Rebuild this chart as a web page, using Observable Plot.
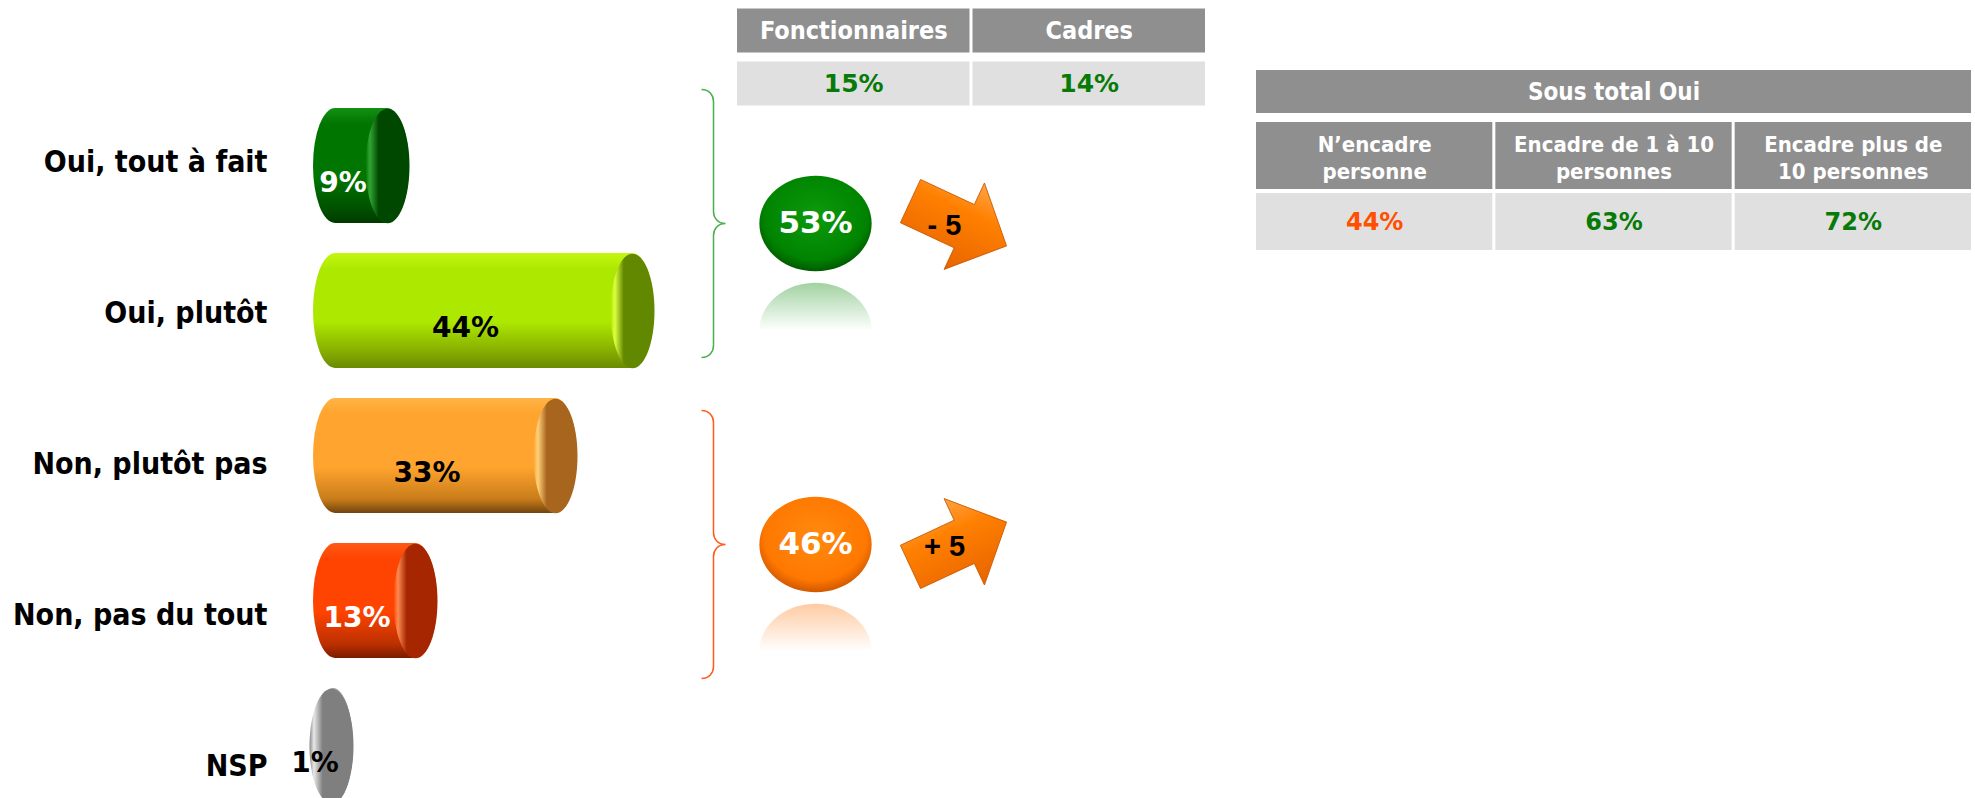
<!DOCTYPE html>
<html><head><meta charset="utf-8">
<script src="https://cdn.jsdelivr.net/npm/d3@7"></script>
<script src="https://cdn.jsdelivr.net/npm/@observablehq/plot@0.6"></script>
<style>
html,body{margin:0;padding:0;background:#fff;overflow:hidden;}
#root{position:relative;width:1975px;height:798px;}
#root > svg{position:absolute;left:0;top:0;}
</style></head><body><div id="root"></div>
<script>
// ---------------- data ----------------
const categories = ["Oui, tout à fait", "Oui, plutôt", "Non, plutôt pas", "Non, pas du tout", "NSP"];
const values = [9, 44, 33, 13, 1];
const groups = ["Oui", "Non"];
const groupTotals = [53, 46];
const groupChanges = [-5, 5];
const publicColumns = ["Fonctionnaires", "Cadres"];
const publicValues = [15, 14];
const subtotalTitle = "Sous total Oui";
const managerColumns = ["N’encadre\npersonne", "Encadre de 1 à 10\npersonnes", "Encadre plus de\n10 personnes"];
const managerValues = [44, 63, 72];

// ---------------- styles ----------------
const W = 1975, H = 798;
const CONDENSED = "'DejaVu Sans Condensed', 'DejaVu Sans', sans-serif";
const WIDE = "'DejaVu Sans', Verdana, sans-serif";
const ARIAL = "'Liberation Sans', Arial, sans-serif";
const HEAD_GRAY = "#8f8f8f", CELL_GRAY = "#e0e0e0", GREEN_TXT = "#077a07", ORANGE_TXT = "#ff4f00";
const barPalette = [
  {top: "#139013", mid: "#007500", bot: "#005000", edge: "#003a00", cap: "#004800", hi: "#33a533", text: "white"},
  {top: "#c4f710", mid: "#ade800", bot: "#82a800", edge: "#6a8a00", cap: "#628800", hi: "#dcff40", text: "black"},
  {top: "#ffb445", mid: "#ffa42e", bot: "#c87c1a", edge: "#70440f", cap: "#a8651d", hi: "#ffd27a", text: "black"},
  {top: "#ff5a18", mid: "#ff4300", bot: "#bb3000", edge: "#7a1c00", cap: "#a52600", hi: "#ff8a52", text: "white"},
  {top: "#a0a0a0", mid: "#8a8a8a", bot: "#6e6e6e", edge: "#555555", cap: "#7f7f7f", hi: "#e8e8e8", text: "black"}
];
const groupPalette = [
  {brace: "#4aae4a", c0: "#0d9a0d", c1: "#008400", c2: "#005a00", refl: "#2e9a2e"},
  {brace: "#ff5a1a", c0: "#ff8a10", c1: "#ff7800", c2: "#d05800", refl: "#ff8a30"}
];

// ---------------- gradients ----------------
const defs = d3.select("#root").append("svg").attr("width", 0).attr("height", 0)
  .style("position", "absolute").append("defs");
function linGrad(id, vertical, stops) {
  const g = defs.append("linearGradient").attr("id", id)
    .attr("x1", 0).attr("y1", 0).attr("x2", vertical ? 0 : 1).attr("y2", vertical ? 1 : 0);
  stops.forEach(([o, c, op]) => g.append("stop").attr("offset", o).attr("stop-color", c).attr("stop-opacity", op ?? 1));
}
function radGrad(id, stops) {
  const g = defs.append("radialGradient").attr("id", id).attr("cx", 0.5).attr("cy", 0.42).attr("r", 0.58);
  stops.forEach(([o, c]) => g.append("stop").attr("offset", o).attr("stop-color", c));
}
barPalette.forEach((p, i) => {
  linGrad(`body${i}`, true, [[0, p.top], [0.14, p.mid], [0.6, p.mid], [0.88, p.bot], [1, p.edge]]);
  linGrad(`cap${i}`, false, [[0, p.mid], [0.1, p.hi], [0.3, p.cap], [1, p.cap]]);
});
groupPalette.forEach((p, i) => {
  radGrad(`tot${i}`, [[0, p.c0], [0.78, p.c1], [1, p.c2]]);
  linGrad(`refl${i}`, true, [[0, p.refl, 0.45], [0.5, p.refl, 0]]);
});
linGrad("arrow", true, [[0, "#ffa446"], [0.35, "#ff8000"], [1, "#e86400"]]);

// ---------------- custom symbols ----------------
function ellipseSymbol(ax, ay) {
  const k = 0.5523;
  return {draw(ctx, size) {
    const r = Math.sqrt(size / Math.PI), rx = ax * r, ry = ay * r;
    ctx.moveTo(rx, 0);
    ctx.bezierCurveTo(rx, k * ry, k * rx, ry, 0, ry);
    ctx.bezierCurveTo(-k * rx, ry, -rx, k * ry, -rx, 0);
    ctx.bezierCurveTo(-rx, -k * ry, -k * rx, -ry, 0, -ry);
    ctx.bezierCurveTo(k * rx, -ry, rx, -k * ry, rx, 0);
    ctx.closePath();
  }};
}
const braceSymbol = {draw(ctx, size) {
  const h = Math.sqrt(size / Math.PI), w = 12;
  ctx.moveTo(-w, -h);
  ctx.bezierCurveTo(-w / 3, -h, 0, -h + w / 2, 0, -h + w);
  ctx.lineTo(0, -w);
  ctx.bezierCurveTo(0, -w / 2, w / 3, 0, w, 0);
  ctx.bezierCurveTo(w / 3, 0, 0, w / 2, 0, w);
  ctx.lineTo(0, h - w);
  ctx.bezierCurveTo(0, h - w / 2, -w / 3, h, -w, h);
}};
const arrowSymbol = {draw(ctx, size) {
  const r = Math.sqrt(size / Math.PI), sh = 0.45 * r, hh = 0.9 * r, hb = 0.12 * r;
  ctx.moveTo(-r, -sh); ctx.lineTo(hb, -sh); ctx.lineTo(hb, -hh); ctx.lineTo(r, 0);
  ctx.lineTo(hb, hh); ctx.lineTo(hb, sh); ctx.lineTo(-r, sh); ctx.closePath();
}};

const root = document.getElementById("root");
const base = {width: W, height: H, margin: 0, style: {background: "transparent", overflow: "visible"}};

// ---------------- bars ----------------
const bars = categories.map((c, i) => ({cat: c, value: values[i], i}));
root.append(Plot.plot({
  ...base,
  x: {domain: [0, 100], range: [324, 1024], axis: null},
  y: {type: "band", domain: categories, range: [77.25, 832.7], padding: 0.21, axis: null},
  color: {type: "identity"},
  marks: [
    Plot.barX(bars, {x1: 0, x2: "value", y: "cat", insetLeft: -11, insetRight: -22, rx: 22, ry: 60,
      fill: d => `url(#body${d.i})`}),
    Plot.dot(bars, {x: "value", y: "cat", r: 57.3, symbol: ellipseSymbol(0.384, 1), fill: d => `url(#cap${d.i})`}),
    Plot.text(bars, {x: d => d.value / 2, y: "cat", text: d => `${d.value}%`, dx: -13, dy: 17,
      fill: d => barPalette[d.i].text, fontFamily: WIDE, fontSize: 28, fontWeight: "bold"})
  ]
}));

// ---------------- category labels ----------------
root.append(Plot.plot({
  width: W, height: H, marginLeft: 270, marginTop: 0, marginBottom: 0, marginRight: 0,
  style: {background: "transparent", fontFamily: CONDENSED, fontWeight: "bold", fontSize: "30px", color: "black"},
  y: {type: "band", domain: categories, range: [84.2, 842.4], padding: 0},
  marks: [Plot.axisY({anchor: "left", tickSize: 0, tickPadding: 3, fontSize: 30, fontFamily: CONDENSED, fontWeight: "bold", label: null})]
}));

// ---------------- sub-totals, braces, evolutions ----------------
const summary = groups.map((g, i) => ({group: g, total: groupTotals[i], change: groupChanges[i], i}));
root.append(Plot.plot({
  ...base,
  x: {type: "point", domain: ["total", "écart"], range: [815, 958], padding: 0, axis: null},
  y: {type: "point", domain: groups, range: [223, 544], padding: 0, axis: null},
  color: {type: "identity"},
  marks: [
    Plot.dot(summary, {x: () => "total", y: "group", dx: -102, r: 134, symbol: braceSymbol,
      fill: "none", stroke: d => groupPalette[d.i].brace, strokeWidth: 1.5}),
    Plot.dot(summary, {x: () => "total", y: "group", dy: 107, r: 52, symbol: ellipseSymbol(1.08, 0.92),
      fill: d => `url(#refl${d.i})`}),
    Plot.dot(summary, {x: () => "total", y: "group", r: 52, symbol: ellipseSymbol(1.08, 0.92),
      fill: d => `url(#tot${d.i})`}),
    Plot.text(summary, {x: () => "total", y: "group", text: d => `${d.total}%`, fill: "white",
      fontFamily: WIDE, fontSize: 31, fontWeight: "bold"}),
    Plot.dot(summary, {x: () => "écart", y: "group", r: 53, symbol: arrowSymbol,
      rotate: d => d.change < 0 ? 25 : -25, fill: () => "url(#arrow)", stroke: "#c85800", strokeWidth: 0.8}),
    Plot.text(summary, {x: () => "écart", y: "group", text: d => `${d.change < 0 ? "-" : "+"} ${Math.abs(d.change)}`,
      dx: -14, dy: 2, fill: "black", fontFamily: ARIAL, fontSize: 29, fontWeight: "bold"})
  ]
}));

// ---------------- table: Fonctionnaires / Cadres ----------------
const publicRows = ["entête", "valeur"];
root.append(Plot.plot({
  ...base,
  x: {domain: [0, publicColumns.length], range: [735.5, 1206.5], axis: null},
  y: {type: "band", domain: publicRows, range: [3.75, 110.75], padding: 0, axis: null},
  marks: [
    Plot.barX(publicColumns, {x1: (d, i) => i, x2: (d, i) => i + 1, y: () => "entête", fill: HEAD_GRAY,
      insetLeft: 1.5, insetRight: 1.5, insetTop: 4.5, insetBottom: 4.5}),
    Plot.barX(publicValues, {x1: (d, i) => i, x2: (d, i) => i + 1, y: () => "valeur", fill: CELL_GRAY,
      insetLeft: 1.5, insetRight: 1.5, insetTop: 4.5, insetBottom: 4.5}),
    Plot.text(publicColumns, {x: (d, i) => i + 0.5, y: () => "entête", text: d => d, fill: "white",
      fontFamily: CONDENSED, fontSize: 25, fontWeight: "bold"}),
    Plot.text(publicValues, {x: (d, i) => i + 0.5, y: () => "valeur", text: d => `${d}%`, fill: GREEN_TXT,
      fontFamily: WIDE, fontSize: 25, fontWeight: "bold"})
  ]
}));

// ---------------- table: Sous total Oui by management ----------------
const managerRows = ["titre", "entête", "valeur"];
const managerColors = [ORANGE_TXT, GREEN_TXT, GREEN_TXT];
root.append(Plot.plot({
  ...base,
  x: {domain: [0, managerColumns.length], range: [1254.5, 1972.5], axis: null},
  y: {type: "band", domain: managerRows, range: [59, 254], padding: 0, axis: null},
  color: {type: "identity"},
  marks: [
    Plot.barX([subtotalTitle], {x1: 0, x2: managerColumns.length, y: () => "titre", fill: () => HEAD_GRAY,
      insetLeft: 1.5, insetRight: 1.5, insetTop: 11, insetBottom: 11}),
    Plot.barX(managerColumns, {x1: (d, i) => i, x2: (d, i) => i + 1, y: () => "entête", fill: () => HEAD_GRAY,
      insetLeft: 1.5, insetRight: 1.5, insetTop: -2, insetBottom: 0}),
    Plot.barX(managerValues, {x1: (d, i) => i, x2: (d, i) => i + 1, y: () => "valeur", fill: () => CELL_GRAY,
      insetLeft: 1.5, insetRight: 1.5, insetTop: 4, insetBottom: 4}),
    Plot.text([subtotalTitle], {x: managerColumns.length / 2, y: () => "titre", text: d => d, fill: "white",
      fontFamily: CONDENSED, fontSize: 24, fontWeight: "bold"}),
    Plot.text(managerColumns, {x: (d, i) => i + 0.5, y: () => "entête", text: d => d, fill: "white",
      fontFamily: CONDENSED, fontSize: 22, fontWeight: "bold", lineHeight: 1.2}),
    Plot.text(managerValues, {x: (d, i) => i + 0.5, y: () => "valeur", text: d => `${d}%`,
      fill: (d, i) => managerColors[i], fontFamily: WIDE, fontSize: 24, fontWeight: "bold"})
  ]
}));
</script></body></html>
